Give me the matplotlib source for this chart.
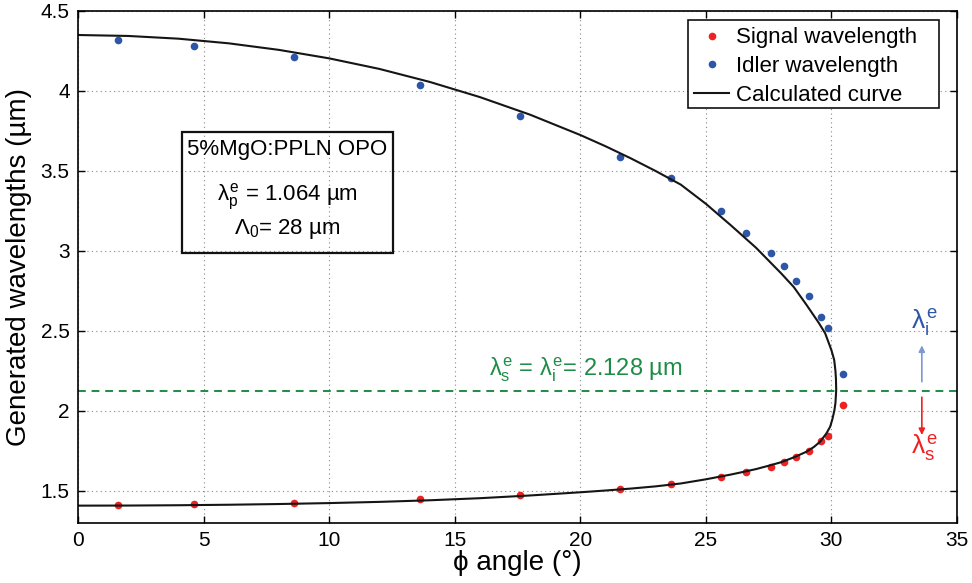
import numpy as np
import matplotlib
matplotlib.use("Agg")
from matplotlib import pyplot as plt

plt.rcParams["font.family"] = ["Liberation Sans", "DejaVu Sans"]
plt.rcParams["mathtext.fontset"] = "custom"
plt.rcParams["mathtext.rm"] = "Liberation Sans"
plt.rcParams["mathtext.it"] = "Liberation Sans"
plt.rcParams["mathtext.bf"] = "Liberation Sans:bold"

# ------------------------------------------------------------
# Dados medidos (lidos da figura)
# ------------------------------------------------------------
theta = [1.6, 4.6, 8.6, 13.6, 17.6, 21.6, 23.6, 25.6, 26.6, 27.6,
         28.1, 28.6, 29.1, 29.6, 29.85, 30.47]
idler = [4.32, 4.28, 4.21, 4.04, 3.845, 3.59, 3.455, 3.25, 3.114, 2.986,
         2.906, 2.811, 2.719, 2.586, 2.517, 2.231]
signal = [1.412, 1.419, 1.427, 1.448, 1.475, 1.512, 1.542, 1.586, 1.617, 1.65,
          1.681, 1.713, 1.748, 1.81, 1.844, 2.037]

# curva calculada: ramo idler (theta crescente) e ramo signal (theta decrescente)
theta_ci = [0, 2, 4, 6, 8, 10, 12, 14, 16, 18, 20, 21, 22, 23, 24, 25,
            26, 27, 28, 28.5, 29, 29.5, 29.75, 30.0, 30.11, 30.16, 30.18, 30.19]
lam_ci = [4.35, 4.344, 4.327, 4.298, 4.257, 4.204, 4.138, 4.057, 3.962, 3.852,
          3.725, 3.655, 3.58, 3.50, 3.415, 3.295, 3.16, 3.02, 2.86, 2.775,
          2.665, 2.55, 2.486, 2.38, 2.319, 2.25, 2.20, 2.13]
theta_cs = [30.16, 30.12, 30.04, 29.95, 29.8, 29.55, 29.3, 29.0, 28.5, 28.0,
            27.5, 27.0, 26.36, 26.0, 25, 24, 23, 22, 21, 20, 18, 16, 14, 12,
            10, 8, 6, 4, 2, 0]
lam_cs = [2.05, 2.006, 1.95, 1.902, 1.86, 1.808, 1.775, 1.745, 1.71, 1.68,
          1.658, 1.637, 1.615, 1.603, 1.573, 1.547, 1.529, 1.515, 1.503, 1.492,
          1.472, 1.455, 1.442, 1.432, 1.4245, 1.4186, 1.4141, 1.411, 1.4091,
          1.4085]

lam_deg = 2.128

azul = "#2d55a8"
vermelho = "#ee2222"
verde = "#1e8c46"

W, H = 972, 583
fig = plt.figure(figsize=(W / 100, H / 100), dpi=100)
ax = fig.add_axes([78 / W, 1 - 523 / H, (957 - 78) / W, (523 - 11) / H])

l_sig, = ax.plot(theta, signal, "o", color=vermelho, markersize=5.5,
                 markeredgewidth=0, label="Signal wavelength")
l_idl, = ax.plot(theta, idler, "o", color=azul, markersize=5.5,
                 markeredgewidth=0, label="Idler wavelength")
l_cal, = ax.plot(theta_ci + theta_cs, lam_ci + lam_cs, "-", color="#151515",
                 lw=1.5, label="Calculated curve")

ax.axhline(lam_deg, color=verde, ls=(0, (4, 3)), lw=1.4)
ax.text(20.2, 2.225, r"$\lambda_s^e$ = $\lambda_i^e$= 2.128 µm", color=verde,
        fontsize=17, ha="center", va="baseline")

# setas à direita
ax.annotate("", xy=(33.6, 2.41), xytext=(33.6, 2.183),
            arrowprops=dict(arrowstyle="-|>", color="#7d98d4", lw=1.2,
                            mutation_scale=9, shrinkA=0, shrinkB=0))
ax.annotate("", xy=(33.6, 1.85), xytext=(33.6, 2.086),
            arrowprops=dict(arrowstyle="-|>", color=vermelho, lw=1.2,
                            mutation_scale=9, shrinkA=0, shrinkB=0))
ax.text(33.7, 2.556, r"$\lambda_i^e$", color=azul, fontsize=19,
        ha="center", va="center")
ax.text(33.7, 1.77, r"$\lambda_s^e$", color=vermelho, fontsize=19,
        ha="center", va="center")

# caixa de texto
xc = (182.3 + 392.7) / 2 / W
fig.text(xc, 1 - 150 / H, "5%MgO:PPLN OPO", fontsize=16, ha="center", va="center")
fig.text(xc, 1 - 197 / H, r"$\lambda_p^e$ = 1.064 µm", fontsize=16,
         ha="center", va="center")
fig.text(xc, 1 - 229 / H, r"$\Lambda_0$= 28 µm", fontsize=16,
         ha="center", va="center")
caixa = plt.Rectangle((182.3 / W, 1 - 253.3 / H), (392.7 - 182.3) / W,
                      (253.3 - 131.7) / H, transform=fig.transFigure,
                      fill=False, lw=1.6, ec="#111111")
fig.patches.append(caixa)

ax.set_xlim(0, 35)
ax.set_ylim(1.3, 4.5)
ax.set_xticks(np.arange(0, 36, 5))
ax.set_yticks([1.5, 2, 2.5, 3, 3.5, 4, 4.5])
ax.set_yticklabels(["1.5", "2", "2.5", "3", "3.5", "4", "4.5"])
ax.tick_params(direction="in", length=5, width=1, top=True, right=True,
               labelsize=15, pad=6)
for s in ax.spines.values():
    s.set_linewidth(1.2)
ax.grid(True, ls=(0, (1, 3)), color="#888888", lw=0.8)

ax.set_xlabel("ϕ angle (°)", fontsize=20, labelpad=0)
ax.set_ylabel("Generated wavelengths (µm)", fontsize=20, labelpad=6)

# legenda com moldura desenhada à parte (estilo MATLAB)
moldura = plt.Rectangle((688 / W, 1 - 108 / H), (939 - 688) / W, (108 - 20) / H,
                        transform=fig.transFigure, fill=True, fc="white",
                        lw=1.2, ec="#111111", zorder=4, clip_on=False)
ax.add_patch(moldura)
leg = ax.legend(handles=[l_sig, l_idl, l_cal], loc="upper left",
                bbox_to_anchor=(690 / W, 1 - 23 / H),
                bbox_transform=fig.transFigure, fontsize=16, frameon=False,
                borderaxespad=0, handlelength=1.55, handletextpad=0.3,
                labelspacing=0.35, borderpad=0.2)
leg.set_zorder(6)

fig.savefig("out.png", dpi=100)
